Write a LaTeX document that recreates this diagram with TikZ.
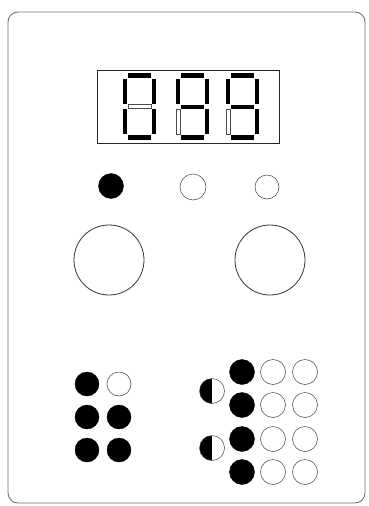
\documentclass[tikz,border=0pt]{standalone}
\begin{document}
\begin{tikzpicture}[x=1pt,y=-1pt,
  panel/.style={draw=black!55,line width=0.9pt,rounded corners=10pt},
  disp/.style={draw=black!85,line width=0.8pt},
  segon/.style={fill=black},
  segoff/.style={draw=black!70,line width=0.4pt,fill=white},
  ledon/.style={circle,fill=black,draw=black,inner sep=0pt,minimum size=#1},
  ledoff/.style={circle,draw=black!75,line width=0.5pt,fill=white,inner sep=0pt,minimum size=#1},
  ledhalf/.style={circle,draw=black!75,line width=0.5pt,inner sep=0pt,minimum size=#1,
    path picture={\fill[black] (path picture bounding box.south west) rectangle (path picture bounding box.north);}},
  knob/.style={circle,draw=black!80,line width=0.8pt,inner sep=0pt,minimum size=70pt}]
\useasboundingbox (0,0) rectangle (369,506);
\fill[white] (0,0) rectangle (369,506);
% panel
\draw[panel] (8,12) rectangle (365,503);
% display
\node[disp,minimum width=182pt,minimum height=73pt,inner sep=0pt,anchor=north west] (display) at (97,70) {};
% seven-segment digits: \digit{x0}{a}{b}{c}{d}{e}{f}{g}
\newcommand\mydigit[8]{%
  \path[#2] (#1+5,73) rectangle (#1+28,78);
  \path[#3] (#1+29,79) rectangle (#1+33,104);
  \path[#4] (#1+29,109) rectangle (#1+33,134);
  \path[#5] (#1+5,135) rectangle (#1+28,140);
  \path[#6] (#1,109) rectangle (#1+4,134);
  \path[#7] (#1,79) rectangle (#1+4,104);
  \path[#8] (#1+5,104.5) rectangle (#1+28,108.5);}
\mydigit{123}{segon}{segon}{segon}{segon}{segon}{segon}{segoff}
\mydigit{176}{segon}{segon}{segon}{segon}{segoff}{segon}{segon}
\mydigit{226}{segon}{segon}{segon}{segon}{segoff}{segon}{segon}
% top indicator row
\node[ledon=25pt] (i1) at (111,186) {};
\node[ledoff=26pt] (i2) at (193,187) {};
\node[ledoff=24pt] (i3) at (267,187) {};
% knobs
\node[knob] (k1) at (109,260) {};
\node[knob] (k2) at (270,260) {};
% left grid
\node[ledon=24pt] (l11) at (87,384) {};
\node[ledoff=24pt] (l12) at (119,384) {};
\node[ledon=24pt] (l21) at (87,417) {};
\node[ledon=24pt] (l22) at (119,417) {};
\node[ledon=24pt] (l31) at (87,450) {};
\node[ledon=24pt] (l32) at (119,450) {};
% right group
\node[ledhalf=25pt] (h1) at (212,391) {};
\node[ledhalf=25pt] (h2) at (212,448) {};
\foreach \r/\y in {1/372,2/405,3/439,4/472}{
  \node[ledon=25pt] (r\r a) at (242,\y) {};
  \node[ledoff=25pt] (r\r b) at (273,\y) {};
  \node[ledoff=25pt] (r\r c) at (305,\y) {};
}
\end{tikzpicture}
\end{document}
